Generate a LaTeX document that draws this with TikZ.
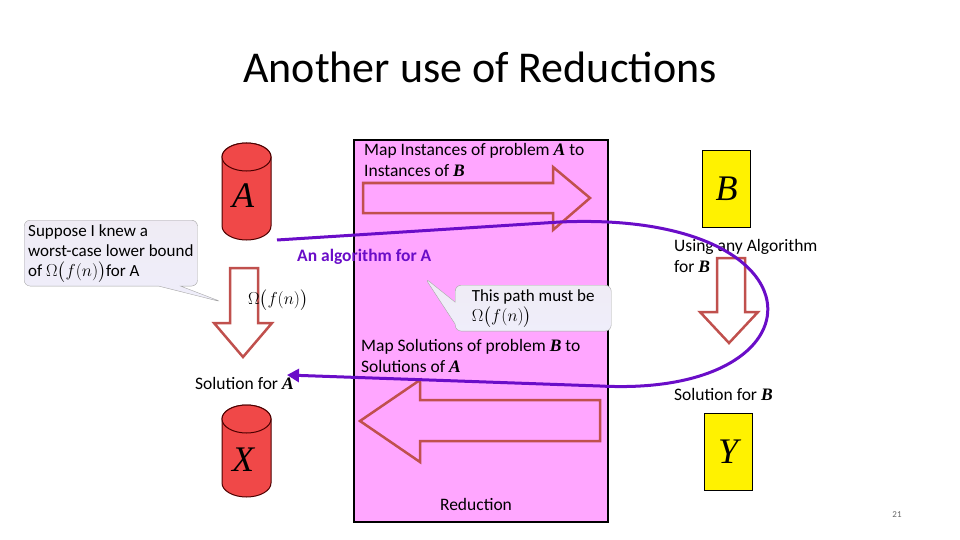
\documentclass[tikz,border=0pt]{standalone}
\usepackage{amsmath}
\usepackage{fontspec}
\setmainfont{Carlito}
\newfontfamily\serifit{Liberation Serif}
\usetikzlibrary{shapes.callouts,arrows.meta}
\definecolor{pinkbg}{HTML}{FFA6FF}
\definecolor{cylred}{HTML}{F04848}
\definecolor{arrred}{HTML}{C0504D}
\definecolor{purp}{HTML}{6A0DC8}
\definecolor{lav}{HTML}{D8D4F4}
\newcommand{\bi}[1]{{\serifit\bfseries\itshape #1}}
\newcommand{\bigit}[1]{{\serifit\itshape #1}}
\begin{document}
\begin{tikzpicture}[x=1pt,y=-1pt,
  txt/.style={anchor=north west,inner sep=0pt,font=\fontsize{17.5}{21}\selectfont,align=left},
  blockarr/.style={draw=arrred,line width=2.5pt},
  cyl/.style={draw=black!70!red,line width=1pt,fill=cylred},
  ybox/.style={draw=black,line width=1pt,fill=yellow,minimum width=48pt,minimum height=77pt,font=\fontsize{36}{40}\selectfont},
  callbox/.style={rectangle callout,rounded corners=6pt,draw=black!35,bottom color=lav!40,top color=lav!110!blue!90,align=left,font=\fontsize{17}{20}\selectfont,inner sep=4pt,callout pointer width=22pt}]
\useasboundingbox (0,0) rectangle (960,540);
\node (title) at (480,67) {\fontsize{44}{48}\selectfont Another use of Reductions};
\node (red) [draw=black,line width=2pt,fill=pinkbg,minimum width=254pt,minimum height=382pt,anchor=north west,inner sep=0pt] at (353,139) {};
\node (redlbl) at (476,504) {\fontsize{17.5}{20}\selectfont Reduction};
\path[cyl] (222,157) -- (222,226) arc[start angle=180,end angle=0,x radius=24.5,y radius=14] -- (271,157) arc[start angle=0,end angle=-180,x radius=24.5,y radius=14];
\draw[cyl] (246.5,157) ellipse[x radius=24.5,y radius=14];
\node (A) at (243,196) {\fontsize{36}{40}\selectfont\bigit{A}};
\path[cyl] (222,419) -- (222,483) arc[start angle=180,end angle=0,x radius=24.5,y radius=14] -- (271,419) arc[start angle=0,end angle=-180,x radius=24.5,y radius=14];
\draw[cyl] (246.5,419) ellipse[x radius=24.5,y radius=14];
\node (X) at (243,460) {\fontsize{36}{40}\selectfont\bigit{X}};
\node (B) [ybox] at (726.5,189) {\bigit{B}};
\node (Y) [ybox] at (728,452) {\bigit{Y}};
\draw[blockarr] (363,183) -- (553,183) -- (553,167) -- (590,198) -- (553,230) -- (553,213) -- (363,213) -- cycle;
\draw[blockarr] (600,400) -- (420,400) -- (420,380) -- (360,421) -- (420,462) -- (420,441) -- (600,441) -- cycle;
\draw[blockarr] (230,268) -- (258,268) -- (258,323) -- (272,323) -- (243,357) -- (214,323) -- (230,323) -- cycle;
\draw[blockarr] (717,258) -- (745,258) -- (745,312) -- (758,312) -- (729,343) -- (700,312) -- (717,312) -- cycle;
\node[txt] (t1) at (364,143) {Map Instances of problem \bi{A} to\\Instances of \bi{B}};
\node[txt] (t2) at (361,339) {Map Solutions of problem \bi{B} to\\Solutions of \bi{A}};
\node[txt] (t3) at (674,239) {Using any Algorithm\\for \bi{B}};
\node[txt] (t4) at (674,388) {Solution for \bi{B}};
\node[txt] (t5) at (195,377) {Solution for \bi{A}};
\node[txt,text=purp,font=\fontsize{17.5}{21}\selectfont\bfseries] (t6) at (297,249) {An algorithm for A};
\node (om) at (278,300) {\fontsize{17}{20}\selectfont$\Omega\bigl(f(n)\bigr)$};
\node[callbox,callout absolute pointer={(222,302)},anchor=north west] (c1) at (24,220) {Suppose I knew a\\worst-case lower bound\\of $\Omega\bigl(f(n)\bigr)$for A};
\node[callbox,callout absolute pointer={(425,278)},anchor=north west,minimum width=156pt] (c2) at (455,285) {This path must be\\$\Omega\bigl(f(n)\bigr)$};
\coordinate (p0) at (277,240);
\coordinate (p1) at (560,222);
\coordinate (p2) at (600,386);
\coordinate (p3) at (287,375);
\draw[purp,line width=3pt,-{Triangle[length=12pt,width=13pt]}] (p0) -- (p1) .. controls (830,210) and (830,398) .. (p2) -- (p3);
\node (pg) at (897,515) {\fontsize{9}{10}\selectfont\color{black!60}21};
\end{tikzpicture}
\end{document}
